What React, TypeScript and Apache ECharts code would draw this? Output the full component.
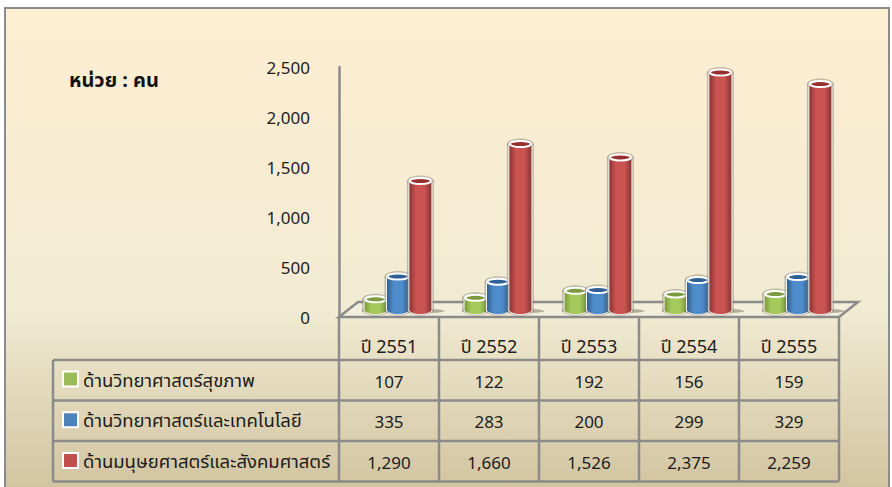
import React, { useEffect, useRef } from "react";
import * as echarts from "echarts";

const categories = ["ปี 2551", "ปี 2552", "ปี 2553", "ปี 2554", "ปี 2555"];
const seriesNames = ["ด้านวิทยาศาสตร์สุขภาพ", "ด้านวิทยาศาสตร์และเทคโนโลยี", "ด้านมนุษยศาสตร์และสังคมศาสตร์"];
const healthValues = [107, 122, 192, 156, 159];
const techValues = [335, 283, 200, 299, 329];
const humanValues = [1290, 1660, 1526, 2375, 2259];
const yTicks = [0, 500, 1000, 1500, 2000, 2500];
const unitLabel = "หน่วย : คน";

const FONT = "Noto Sans, 'Noto Sans Thai', Tahoma, sans-serif";
const GRID = { left: 339, right: 839, top: 67, bottom: 317 };
const ROWS = [360, 400.5, 441, 481.5];
const TABLE_LEFT = 53;
const LINE = "#8b8b8b";
const DEPTH_X = 9;
const DEPTH_Y = 7;
const BAR_W = 22;

const palettes = [
  { main: "#a6c95c", dark: "#7b9a3e", top: "#7d9a3f", legend: "#9bbb59" },
  { main: "#4f8ccb", dark: "#34608f", top: "#2f5f97", legend: "#4f81bd" },
  { main: "#cb5452", dark: "#8a3432", top: "#96302e", legend: "#c0504d" },
];

const fmt = (v: number) => v.toLocaleString("en-US");

function cylinder(idx: number) {
  return (_params: any, api: any) => {
    const c = api.coord([api.value(0), api.value(1)]);
    const z = api.coord([api.value(0), 0]);
    const cx = c[0] + DEPTH_X + (idx - 1) * 22.4;
    const top = c[1] - DEPTH_Y;
    const base = z[1] - DEPTH_Y;
    const rx = BAR_W / 2;
    const ry = 4;
    const p = palettes[idx];
    const grad = new echarts.graphic.LinearGradient(0, 0, 1, 0, [
      { offset: 0, color: p.dark },
      { offset: 0.3, color: p.main },
      { offset: 0.68, color: p.main },
      { offset: 1, color: p.dark },
    ]);
    const halo = "rgba(130,125,110,0.45)";
    return {
      type: "group",
      children: [
        { type: "ellipse", shape: { cx: cx + 5, cy: base + 1, rx: rx + 8, ry: 2 }, style: { fill: "rgba(80,75,55,0.4)" } },
        { type: "rect", shape: { x: cx - rx - 2.5, y: top, width: BAR_W + 5, height: base - top }, style: { fill: halo } },
        { type: "ellipse", shape: { cx, cy: top, rx: rx + 2.5, ry: ry + 1.5 }, style: { fill: halo } },
        { type: "ellipse", shape: { cx, cy: base, rx: rx + 2.5, ry: ry + 1.5 }, style: { fill: halo } },
        { type: "rect", shape: { x: cx - rx - 1, y: top, width: BAR_W + 2, height: base - top }, style: { fill: "#f6f4ee" } },
        { type: "ellipse", shape: { cx, cy: base, rx: rx + 1, ry: ry + 0.8 }, style: { fill: "#f6f4ee" } },
        { type: "ellipse", shape: { cx, cy: base, rx, ry }, style: { fill: grad } },
        { type: "rect", shape: { x: cx - rx, y: top, width: BAR_W, height: base - top }, style: { fill: grad } },
        { type: "ellipse", shape: { cx, cy: top, rx: rx - 0.5, ry: ry - 1 }, style: { fill: p.top, stroke: "#ffffff", lineWidth: 2 } },
      ],
    };
  };
}

function tableGraphics() {
  const els: any[] = [];
  const line = (x1: number, y1: number, x2: number, y2: number) =>
    els.push({ type: "line", z: 1, shape: { x1, y1, x2, y2 }, style: { stroke: LINE, lineWidth: 2.5 } });
  const step = (GRID.right - GRID.left) / categories.length;
  ROWS.forEach((y) => line(TABLE_LEFT, y, GRID.right, y));
  line(TABLE_LEFT, ROWS[0], TABLE_LEFT, ROWS[3]);
  for (let i = 0; i <= categories.length; i++) {
    line(GRID.left + i * step, GRID.bottom, GRID.left + i * step, ROWS[3]);
  }
  [healthValues, techValues, humanValues].forEach((vals, r) => {
    vals.forEach((v, i) => {
      els.push({
        type: "text",
        z: 3,
        style: {
          text: fmt(v),
          x: GRID.left + (i + 0.5) * step,
          y: (ROWS[r] + ROWS[r + 1]) / 2 + 1,
          align: "center",
          verticalAlign: "middle",
          font: `17px ${FONT}`,
          fill: "#1c1c1c",
        },
      });
    });
  });
  return els;
}

export default function App() {
  const ref = useRef<HTMLDivElement>(null);
  useEffect(() => {
    const chart = echarts.init(ref.current!, undefined, { renderer: "svg" });
    chart.setOption({
      animation: false,
      backgroundColor: "#ffffff",
      textStyle: { fontFamily: FONT },
      grid: { left: GRID.left, top: GRID.top, width: GRID.right - GRID.left, height: GRID.bottom - GRID.top },
      legend: {
        orient: "vertical",
        left: 57,
        top: 362,
        padding: 5,
        itemWidth: 15,
        itemHeight: 15,
        itemGap: 16.7,
        icon: "rect",
        selectedMode: false,
        data: seriesNames,
        textStyle: {
          fontFamily: FONT,
          fontSize: 18.5,
          color: "#1c1c1c",
          height: 20,
          lineHeight: 20,
          padding: [4, 0, 0, 0],
        },
      },
      xAxis: {
        type: "category",
        data: categories,
        axisLine: { show: false },
        axisTick: { show: false },
        axisLabel: { fontFamily: FONT, fontSize: 18, color: "#1c1c1c", margin: 20, interval: 0 },
      },
      yAxis: {
        type: "value",
        min: yTicks[0],
        max: yTicks[yTicks.length - 1],
        interval: yTicks[1] - yTicks[0],
        splitLine: { show: false },
        axisTick: { show: false },
        axisLine: { show: true, lineStyle: { color: LINE, width: 2.5 } },
        axisLabel: {
          fontFamily: FONT,
          fontSize: 17,
          color: "#1c1c1c",
          margin: 29,
          formatter: (v: number) => fmt(v),
        },
      },
      graphic: [
        {
          type: "rect",
          z: -10,
          shape: { x: 5, y: 8, width: 884, height: 485 },
          style: {
            fill: new echarts.graphic.LinearGradient(0, 0, 0, 1, [
              { offset: 0, color: "#feeed2" },
              { offset: 0.62, color: "#f1ebd3" },
              { offset: 1, color: "#d1c39f" },
            ]),
            stroke: LINE,
            lineWidth: 2,
          },
        },
        {
          type: "polygon",
          z: 0,
          shape: { points: [[GRID.left, GRID.bottom], [358, 302], [858, 302], [GRID.right, GRID.bottom]] },
          style: { fill: "#f3eeda", stroke: LINE, lineWidth: 2.5 },
        },
        {
          type: "text",
          z: 3,
          style: { text: unitLabel, x: 69, y: 79, verticalAlign: "middle", font: `bold 20px ${FONT}`, fill: "#111111" },
        },
        ...tableGraphics(),
      ],
      series: [healthValues, techValues, humanValues].map((vals, idx) => ({
        type: "custom",
        name: seriesNames[idx],
        coordinateSystem: "cartesian2d",
        itemStyle: { color: palettes[idx].legend, borderColor: "#ffffff", borderWidth: 1.5 },
        encode: { x: 0, y: 1 },
        data: vals.map((v, i) => [i, v]),
        renderItem: cylinder(idx),
        z: 2,
      })),
    });
    return () => chart.dispose();
  }, []);
  return <div ref={ref} style={{ position: "fixed", left: 0, top: 0, width: 892, height: 487 }} />;
}
